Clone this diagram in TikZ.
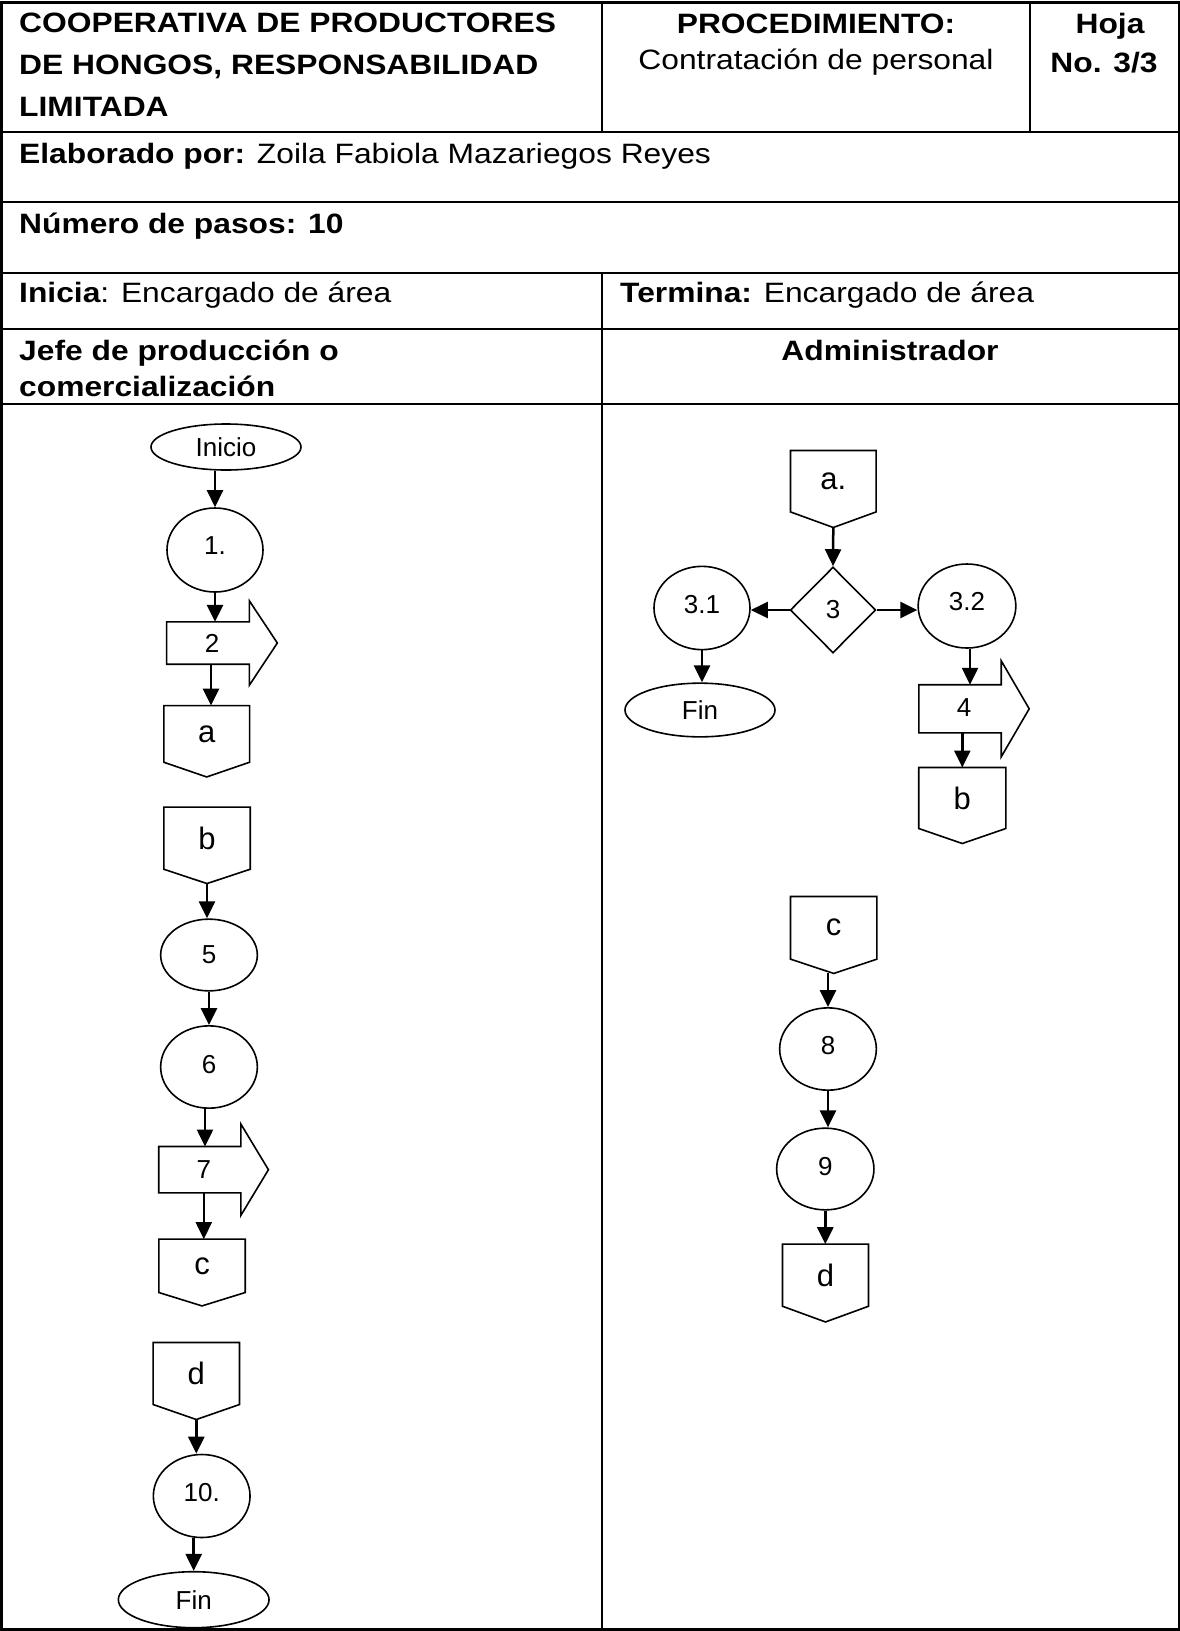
\documentclass[tikz,border=0pt]{standalone}
\usepackage{fontspec}
\setmainfont{Liberation Sans}
\newfontfamily\tabfont[FakeStretch=1.135]{Liberation Sans}
\usetikzlibrary{shapes.geometric,arrows.meta,calc}

\tikzset{
  tabline/.style={line width=2.5pt},
  shapeline/.style={line width=1.6pt},
  arr/.style={line width=2.5pt,-{Triangle[length=17pt,width=16pt]}},
  ttext/.style={anchor=base west, inner sep=0pt, font=\tabfont\fontsize{28}{42}\selectfont},
  ctext/.style={anchor=base, inner sep=0pt, font=\tabfont\fontsize{28}{42}\selectfont},
  oval/.style={ellipse, draw, shapeline, inner sep=0pt, font=\fontsize{26}{30}\selectfont},
  opc/.style={inner sep=0pt, font=\fontsize{31}{36}\selectfont},
  barr/.style={inner sep=0pt, font=\fontsize{26}{30}\selectfont},
  dia/.style={diamond, draw, shapeline, inner sep=0pt, font=\fontsize{26}{30}\selectfont},
}

% label raised/lowered by half of #1 inside its node
\newcommand\rlab[2]{\raisebox{#1}{#2}}

% off-page connector: name, x, y, w, h, tip depth, label
\newcommand\offpage[7]{%
  \node[opc, minimum width=#4, minimum height=#5] (#1) at (#2,#3) {#7};
  \coordinate (#1-tip) at ([yshift=-#6pt]#1.south);
  \draw[shapeline] (#1.north west) -- (#1.north east) -- (#1.south east)
     -- (#1-tip) -- (#1.south west) -- cycle;}

% block arrow: name, x, y, w, h, head extension, head length, label
\newcommand\blockarr[8]{%
  \node[barr, minimum width=#4, minimum height=#5] (#1) at (#2,#3) {\hspace*{8pt}#8};
  \draw[shapeline] (#1.north west) -- (#1.north east) -- ([yshift=#6pt]#1.north east)
     -- ([xshift=#7pt]#1.east) -- ([yshift=-#6pt]#1.south east) -- (#1.south east)
     -- (#1.south west) -- cycle;}

\begin{document}
\begin{tikzpicture}[x=1pt,y=-1pt]
\useasboundingbox (0,0) rectangle (1180,1631);
\fill[white] (0,0) rectangle (1180,1631);

% ---------- table ----------
\draw[tabline] (1.25,2.5) rectangle (1178.75,1629.5);
\foreach \yy in {132,202,273,329,404}
  \draw[tabline] (1.25,\yy) -- (1178.75,\yy);
\draw[tabline] (602,2.5) -- (602,132);
\draw[tabline] (1030,2.5) -- (1030,132);
\draw[tabline] (602,273) -- (602,1629.5);

\node[ttext] (h1) at (19,32) {\bfseries COOPERATIVA DE PRODUCTORES};
\node[ttext] (h2) at (19,74) {\bfseries DE HONGOS, RESPONSABILIDAD};
\node[ttext] (h3) at (19,116) {\bfseries LIMITADA};
\node[ctext] (p1) at (816,33) {\bfseries PROCEDIMIENTO:};
\node[ctext] (p2) at (816,69) {Contratación de personal};
\node[ctext] (hj1) at (1110,33) {\bfseries Hoja};
\node[ctext] (hj2) at (1104,72) {\bfseries No. 3/3};
\node[ttext] (elab) at (19,163) {{\bfseries Elaborado por:} Zoila Fabiola Mazariegos Reyes};
\node[ttext] (npas) at (19,233) {\bfseries Número de pasos: 10};
\node[ttext] (ini) at (19,302) {{\bfseries Inicia}: Encargado de área};
\node[ttext] (ter) at (620,302) {{\bfseries Termina:} Encargado de área};
\node[ttext] (jf1) at (19,360) {\bfseries Jefe de producción o};
\node[ttext] (jf2) at (19,396) {\bfseries comercialización};
\node[ctext] (adm) at (890,360) {\bfseries Administrador};

% ---------- left lane ----------
\node[oval, minimum width=150, minimum height=46] (inicio) at (226,447) {Inicio};
\node[oval, minimum width=96, minimum height=84] (n1) at (215,550) {\rlab{8pt}{1.}};
\draw[arr] (inicio.south -| n1.north) -- (n1.north);
\blockarr{s2}{208}{643}{82.3}{42}{21}{28}{2}
\draw[arr] (n1.south) -- (n1.south |- s2.north);
\offpage{ca}{206.7}{733.9}{85.3}{56.3}{14.7}{\rlab{-8pt}{a}}
\draw[arr] ([xshift=3pt]s2.south) -- ([xshift=3pt]s2.south |- ca.north);

\offpage{cb}{207}{838.2}{86}{61.7}{14.3}{b}
\node[oval, minimum width=96.7, minimum height=71.7] (n5) at (209,955) {5};
\draw[arr] (cb-tip) -- (cb-tip |- n5.north);
\node[oval, minimum width=96.7, minimum height=82.3] (n6) at (209,1067) {\rlab{6pt}{6}};
\draw[arr] (n5.south) -- (n6.north);
\blockarr{s7}{199.8}{1169.7}{81.7}{46}{22.5}{27.6}{7}
\draw[arr] ([xshift=-4pt]n6.south) -- ([xshift=-4pt]n6.south |- s7.north);
\offpage{cc}{202}{1265.8}{86}{53}{13.4}{\rlab{-12pt}{c}}
\draw[arr] ([xshift=4pt]s7.south) -- ([xshift=4pt]s7.south |- cc.north);

\offpage{cd}{196.3}{1373.5}{86}{61.6}{15}{d}
\node[oval, minimum width=96.7, minimum height=83] (n10) at (201.7,1496) {\rlab{8pt}{10.}};
\draw[arr] (cd-tip) -- (cd-tip |- n10.north);
\node[oval, minimum width=150.7, minimum height=56] (fin1) at (193.7,1599.7) {\rlab{-6pt}{Fin}};
\draw[arr] (fin1.north |- n10.south) -- (fin1.north);

% ---------- right lane ----------
\offpage{ra}{833.3}{481.2}{85.3}{61}{15.6}{a.}
\node[dia, minimum width=85.4, minimum height=86] (d3) at (833,610) {3};
\draw[arr] (ra-tip) -- (d3.north);
\node[oval, minimum width=96, minimum height=83.3] (n31) at (702,608) {\rlab{8pt}{3.1}};
\draw[arr] (d3.west) -- (d3.west -| n31.east);
\node[oval, minimum width=150, minimum height=53.7] (fin2) at (700,710) {\rlab{-6pt}{Fin}};
\draw[arr] (n31.south) -- (n31.south |- fin2.north);
\node[oval, minimum width=97.7, minimum height=84] (n32) at (967,606) {\rlab{9pt}{3.2}};
\draw[arr] (d3.east) -- (d3.east -| n32.west);
\blockarr{s4}{960}{708.8}{82}{47.7}{24}{28}{\rlab{3pt}{4}}
\draw[arr] ([xshift=3pt]n32.south) -- ([xshift=3pt]n32.south |- s4.north);
\offpage{rb}{962.3}{798}{86.7}{60.6}{15}{b}
\draw[arr] (rb.north |- s4.south) -- (rb.north);

\offpage{rc}{833.7}{927.8}{86}{62.3}{14.3}{\rlab{2pt}{c}}
\node[oval, minimum width=96.7, minimum height=82.3] (n8) at (828,1049) {\rlab{8pt}{8}};
\draw[arr] (n8.north |- rc-tip) -- (n8.north);
\node[oval, minimum width=97.3, minimum height=81.7] (n9) at (825.3,1169) {\rlab{6pt}{9}};
\draw[arr] (n8.south) -- (n8.south |- n9.north);
\offpage{rd}{825.5}{1275.2}{85.6}{61.7}{15.7}{d}
\draw[arr] (n9.south) -- (n9.south |- rd.north);
\end{tikzpicture}
\end{document}
